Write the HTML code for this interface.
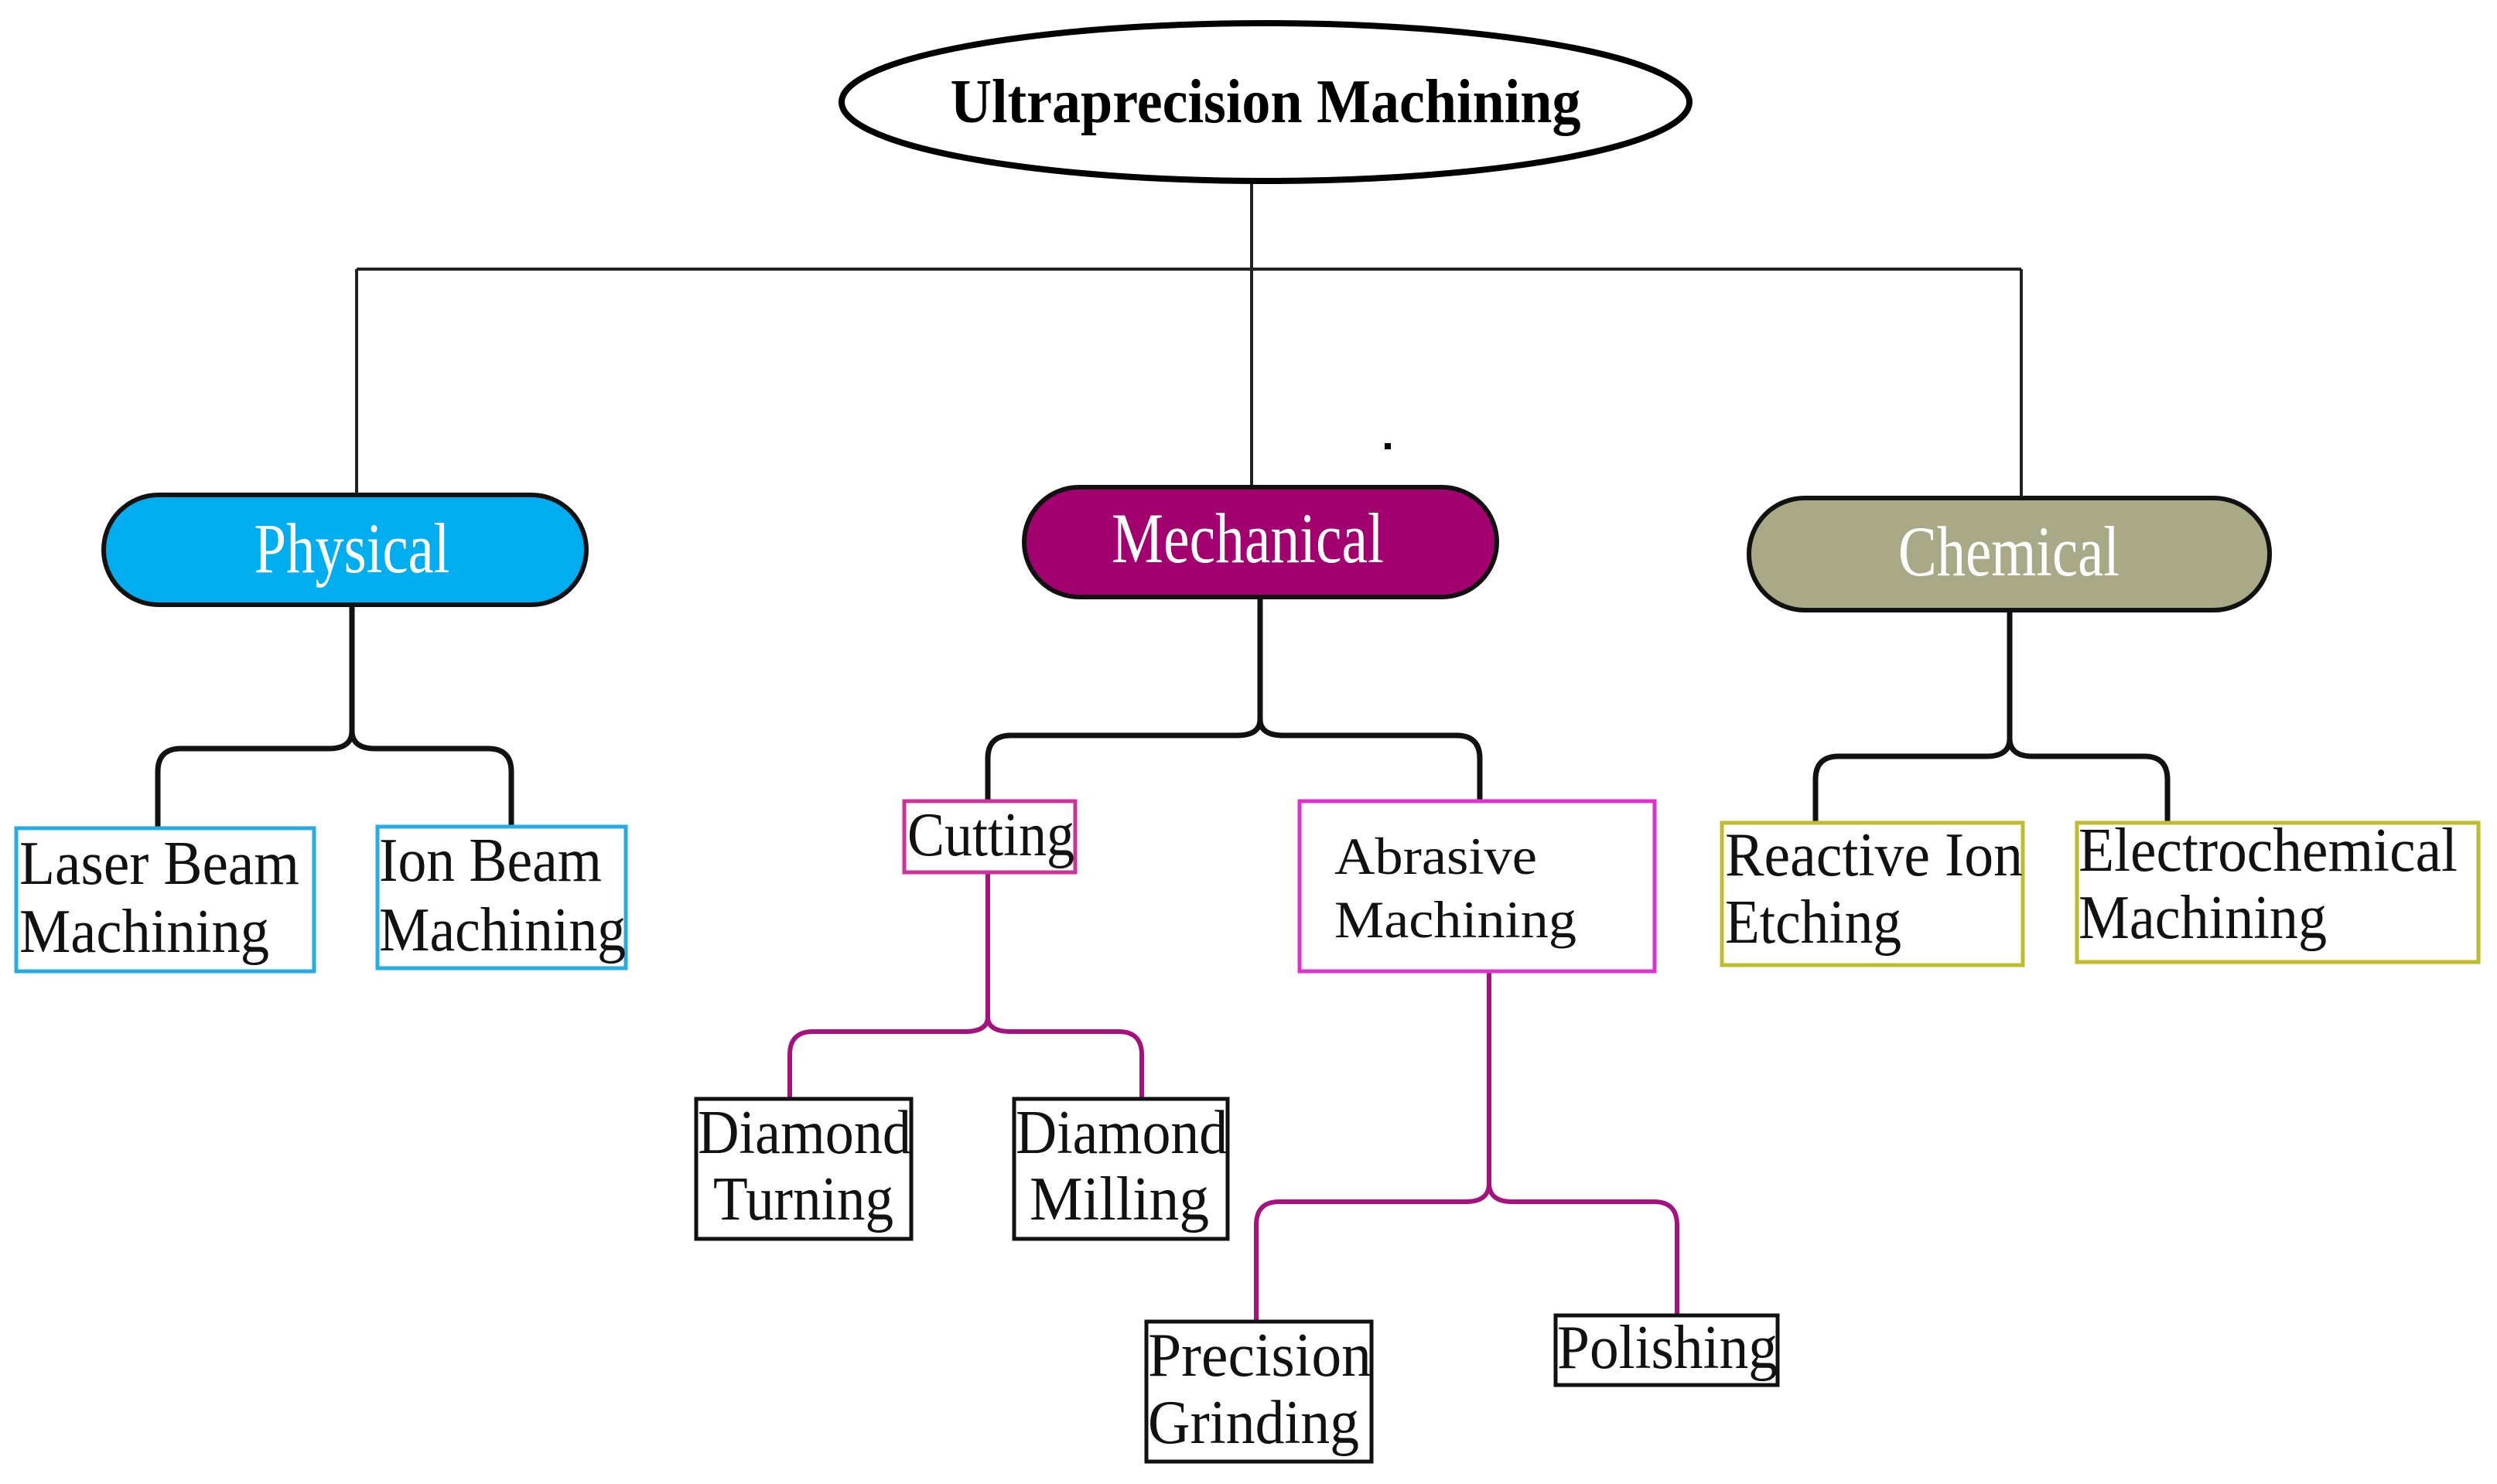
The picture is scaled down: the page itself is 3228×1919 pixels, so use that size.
<!DOCTYPE html>
<html><head><meta charset="utf-8"><style>html,body{margin:0;padding:0;background:#fff}svg{display:block}</style></head>
<body>
<svg width="3228" height="1919" viewBox="0 0 3228 1919" xmlns="http://www.w3.org/2000/svg" font-family="'Liberation Serif', serif">
<rect width="3228" height="1919" fill="#fff"/>
<!-- top connectors -->
<g stroke="#222" stroke-width="4" fill="none">
<line x1="1618" y1="235" x2="1618" y2="630"/>
<line x1="461" y1="348" x2="2613" y2="348"/>
<line x1="461" y1="348" x2="461" y2="640"/>
<line x1="2613" y1="348" x2="2613" y2="644"/>
</g>
<ellipse cx="1636" cy="132" rx="548" ry="102" fill="#fff" stroke="#000" stroke-width="8"/>
<text x="1636" y="158" text-anchor="middle" font-weight="bold" font-size="80" textLength="815" lengthAdjust="spacingAndGlyphs">Ultraprecision Machining</text>
<rect x="1790" y="573" width="8" height="8" fill="#000"/>
<!-- pills -->
<rect x="134" y="640" width="624" height="142" rx="71" fill="#00aeef" stroke="#111" stroke-width="6"/>
<text x="455" y="740" text-anchor="middle" fill="#fff" font-size="92" textLength="253" lengthAdjust="spacingAndGlyphs">Physical</text>
<rect x="1324" y="630" width="611" height="142" rx="71" fill="#a3006f" stroke="#111" stroke-width="6"/>
<text x="1613" y="727" text-anchor="middle" fill="#fff" font-size="92" textLength="352" lengthAdjust="spacingAndGlyphs">Mechanical</text>
<rect x="2261" y="644" width="673" height="145" rx="72" fill="#a9a988" stroke="#111" stroke-width="6"/>
<text x="2597" y="744" text-anchor="middle" fill="#fff" font-size="92" textLength="286" lengthAdjust="spacingAndGlyphs">Chemical</text>
<!-- level 2 connectors -->
<g stroke="#111" stroke-width="7" fill="none">
<path d="M455 782 V945 Q455 968 425 968 H234 Q204 968 204 998 V1071"/>
<path d="M455 945 Q455 968 485 968 H631 Q661 968 661 998 V1069"/>
<path d="M1629 772 V930 Q1629 951 1599 951 H1307 Q1277 951 1277 981 V1036"/>
<path d="M1629 930 Q1629 951 1659 951 H1883 Q1913 951 1913 981 V1036"/>
<path d="M2598 789 V955 Q2598 978 2568 978 H2377 Q2347 978 2347 1008 V1064"/>
<path d="M2598 955 Q2598 978 2628 978 H2772 Q2802 978 2802 1008 V1064"/>
</g>
<g stroke="#a3127f" stroke-width="6" fill="none">
<path d="M1277 1128 V1315 Q1277 1334 1247 1334 H1051 Q1021 1334 1021 1364 V1421"/>
<path d="M1277 1315 Q1277 1334 1307 1334 H1446 Q1476 1334 1476 1364 V1421"/>
<path d="M1925 1256 V1530 Q1925 1554 1895 1554 H1654 Q1624 1554 1624 1584 V1709"/>
<path d="M1925 1530 Q1925 1554 1955 1554 H2138 Q2168 1554 2168 1584 V1701"/>
</g>
<!-- boxes -->
<g fill="#fff" stroke-width="5">
<rect x="21" y="1071" width="385" height="185" stroke="#29abe2"/>
<rect x="488" y="1069" width="321" height="183" stroke="#29abe2"/>
<rect x="1169" y="1036" width="221" height="92" stroke="#cc3399"/>
<rect x="1680" y="1036" width="459" height="220" stroke="#dd33cc"/>
<rect x="2226" y="1064" width="389" height="184" stroke="#bdbd2e"/>
<rect x="2685" y="1064" width="519" height="180" stroke="#bdbd2e"/>
<rect x="900" y="1421" width="278" height="181" stroke="#111"/>
<rect x="1311" y="1421" width="276" height="181" stroke="#111"/>
<rect x="1482" y="1709" width="291" height="181" stroke="#111"/>
<rect x="2011" y="1701" width="287" height="90" stroke="#111"/>
</g>
<g fill="#111" font-size="80">
<text x="25" y="1143" textLength="362" lengthAdjust="spacingAndGlyphs">Laser Beam</text>
<text x="25" y="1231" textLength="323" lengthAdjust="spacingAndGlyphs">Machining</text>
<text x="490" y="1139" textLength="288" lengthAdjust="spacingAndGlyphs">Ion Beam</text>
<text x="490" y="1229" textLength="319" lengthAdjust="spacingAndGlyphs">Machining</text>
<text x="1173" y="1106" textLength="216" lengthAdjust="spacingAndGlyphs">Cutting</text>
<text x="1725" y="1130" font-size="68" textLength="262" lengthAdjust="spacingAndGlyphs">Abrasive</text>
<text x="1725" y="1212" font-size="68" textLength="313" lengthAdjust="spacingAndGlyphs">Machining</text>
<text x="2230" y="1132" textLength="385" lengthAdjust="spacingAndGlyphs">Reactive Ion</text>
<text x="2230" y="1219" textLength="228" lengthAdjust="spacingAndGlyphs">Etching</text>
<text x="2687" y="1126" textLength="490" lengthAdjust="spacingAndGlyphs">Electrochemical</text>
<text x="2687" y="1213" textLength="321" lengthAdjust="spacingAndGlyphs">Machining</text>
<text x="902" y="1491" textLength="276" lengthAdjust="spacingAndGlyphs">Diamond</text>
<text x="922" y="1577" textLength="233" lengthAdjust="spacingAndGlyphs">Turning</text>
<text x="1313" y="1491" textLength="274" lengthAdjust="spacingAndGlyphs">Diamond</text>
<text x="1331" y="1577" textLength="232" lengthAdjust="spacingAndGlyphs">Milling</text>
<text x="1484" y="1779" textLength="289" lengthAdjust="spacingAndGlyphs">Precision</text>
<text x="1484" y="1866" textLength="273" lengthAdjust="spacingAndGlyphs">Grinding</text>
<text x="2013" y="1769" textLength="285" lengthAdjust="spacingAndGlyphs">Polishing</text>
</g>
</svg>
</body></html>
